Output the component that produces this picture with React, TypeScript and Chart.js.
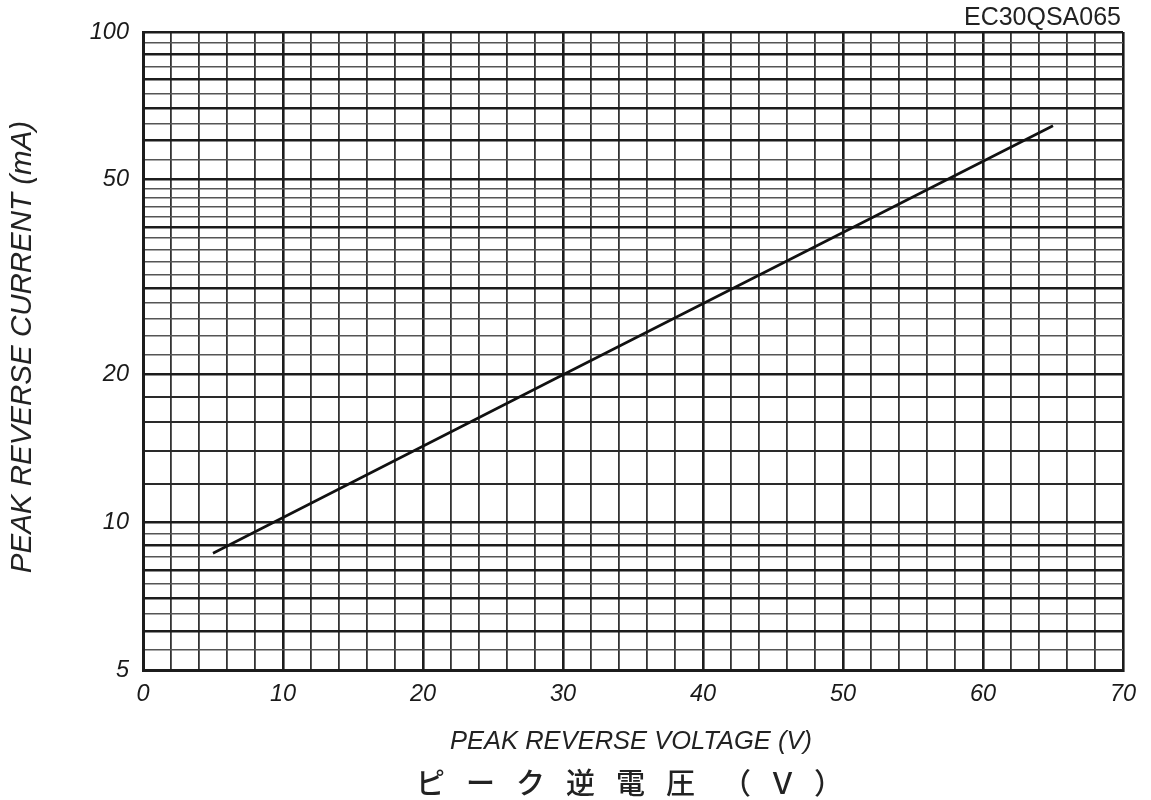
import React, { useEffect, useRef } from "react";
import { Chart, registerables } from "chart.js";

Chart.register(...registerables);

// ---- data ----
const VOLTAGE = [5, 30, 65];
const CURRENT = [8.65, 20, 64.4];

const X_MIN = 0;
const X_MAX = 70;
const X_STEP = 2;
const X_LABELS = [0, 10, 20, 30, 40, 50, 60, 70];

const Y_MIN = 5;
const Y_MAX = 100;
const Y_GRID = [
  5, 5.5, 6, 6.5, 7, 7.5, 8, 8.5, 9, 9.5, 10,
  12, 14, 16, 18, 20,
  22, 24, 26, 28, 30, 32, 34, 36, 38, 40, 42, 44, 46, 48, 50,
  55, 60, 65, 70, 75, 80, 85, 90, 95, 100,
];
const Y_LABELS = [5, 10, 20, 50, 100];
const Y_MAJOR = [5, 6, 7, 8, 9, 10, 20, 30, 40, 50, 60, 70, 80, 90, 100];
const Y_MEDIUM = [12, 14, 16, 18];

const TITLE_X = "PEAK REVERSE VOLTAGE (V)";
const TITLE_X_JP = "ピーク逆電圧";
const TITLE_X_JP_UNIT = "（Ｖ）";
const TITLE_Y = "PEAK REVERSE CURRENT (mA)";
const PART_NO = "EC30QSA065";

const FONT = "'Liberation Sans', Arial, sans-serif";
const INK = "#1c1c1c";

const textPlugin = {
  id: "extraText",
  afterDraw(chart: any) {
    const ctx = chart.ctx as CanvasRenderingContext2D;
    const area = chart.chartArea;
    const cx = (area.left + area.right) / 2;
    ctx.save();
    ctx.fillStyle = "#222";
    ctx.textBaseline = "middle";

    // part number
    ctx.font = `25px ${FONT}`;
    ctx.textAlign = "right";
    ctx.fillText(PART_NO, area.right - 2, 18);

    // x title
    ctx.font = `italic 25.5px ${FONT}`;
    ctx.textAlign = "center";
    ctx.fillText(TITLE_X, cx - 2, 742);

    // japanese title
    ctx.font = `500 29px 'Noto Sans CJK JP', sans-serif`;
    ctx.textAlign = "left";
    (ctx as any).letterSpacing = "21px";
    ctx.fillText(TITLE_X_JP, 416, 783);
    (ctx as any).letterSpacing = "17px";
    ctx.fillText(TITLE_X_JP_UNIT, 722, 783);
    (ctx as any).letterSpacing = "0px";

    // y title
    ctx.translate(23, (area.top + area.bottom) / 2 - 4);
    ctx.rotate(-Math.PI / 2);
    ctx.font = `italic 29.5px ${FONT}`;
    ctx.textAlign = "center";
    ctx.fillText(TITLE_Y, 0, 0);
    ctx.restore();
  },
};

export default function App() {
  const canvasRef = useRef<HTMLCanvasElement | null>(null);

  useEffect(() => {
    if (!canvasRef.current) return;
    const chart = new Chart(canvasRef.current, {
      type: "scatter",
      data: {
        datasets: [
          {
            data: VOLTAGE.map((v, i) => ({ x: v, y: CURRENT[i] })),
            showLine: true,
            borderColor: "#111",
            borderWidth: 2.6,
            pointRadius: 0,
            fill: false,
          },
        ],
      },
      options: {
        animation: false,
        responsive: true,
        maintainAspectRatio: false,
        layout: { padding: { top: 32, right: 28, left: 0, bottom: 0 } },
        plugins: {
          legend: { display: false },
          tooltip: { enabled: false },
        },
        scales: {
          x: {
            type: "linear",
            min: X_MIN,
            max: X_MAX,
            afterFit: (s: any) => {
              s.height = 130;
            },
            ticks: {
              stepSize: X_STEP,
              autoSkip: false,
              maxRotation: 0,
              padding: 10,
              color: "#1a1a1a",
              font: { family: FONT, size: 23.5, style: "italic" },
              callback: (v: any) => (X_LABELS.includes(Number(v)) ? String(v) : ""),
            },
            grid: {
              drawTicks: false,
              color: (c: any) => (c.tick && Number(c.tick.value) % 10 === 0 ? INK : "#333"),
              lineWidth: (c: any) => (c.tick && Number(c.tick.value) % 10 === 0 ? 2.6 : 1.8),
            },
            border: { display: true, color: INK, width: 3 },
          },
          y: {
            type: "logarithmic",
            min: Y_MIN,
            max: Y_MAX,
            afterFit: (s: any) => {
              s.width = 143;
            },
            afterBuildTicks: (s: any) => {
              s.ticks = Y_GRID.map((v) => ({ value: v }));
            },
            ticks: {
              autoSkip: false,
              padding: 14,
              color: "#1a1a1a",
              font: { family: FONT, size: 23.5, style: "italic" },
              callback: (v: any) => (Y_LABELS.includes(Number(v)) ? String(v) : ""),
            },
            grid: {
              drawTicks: false,
              color: (c: any) => {
                const v = c.tick ? Number(c.tick.value) : 0;
                if (Y_MAJOR.includes(v)) return INK;
                if (Y_MEDIUM.includes(v)) return "#2a2a2a";
                return "#555";
              },
              lineWidth: (c: any) => {
                const v = c.tick ? Number(c.tick.value) : 0;
                if (Y_MAJOR.includes(v)) return 2.6;
                if (Y_MEDIUM.includes(v)) return 2;
                return 1.4;
              },
            },
            border: { display: true, color: INK, width: 3 },
          },
        },
      },
      plugins: [textPlugin],
    } as any);
    return () => chart.destroy();
  }, []);

  return (
    <div
      style={{
        position: "fixed",
        left: 0,
        top: 0,
        width: "1151px",
        height: "800px",
        background: "#fff",
      }}
    >
      <canvas ref={canvasRef} />
    </div>
  );
}
